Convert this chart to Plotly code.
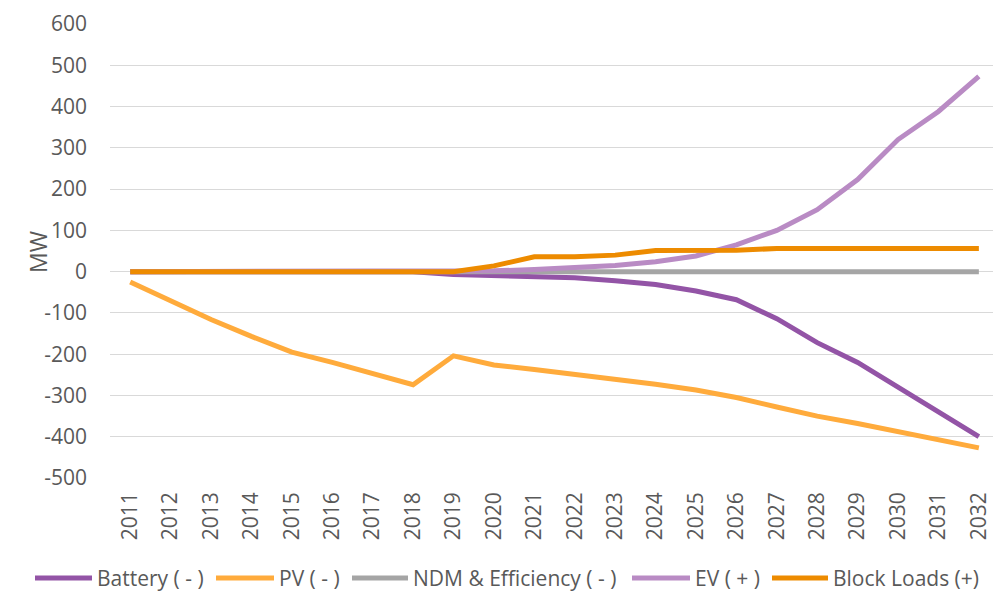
import plotly.graph_objects as go

years = [str(y) for y in range(2011, 2033)]

battery = [0, 0, 0, 0, 0, 0, 0, 0, -7, -9, -11, -15, -22, -31, -47, -68, -114, -172, -220, -281, -342, -400]
pv = [-25, -70, -116, -157, -195, -220, -246, -274, -204, -226, -237, -248, -261, -273, -287, -305, -328, -350, -368, -387, -406, -427]
ndm = [0] * 22
ev = [0, 0, 0, 0, 0, 0, 0, 0, 0, 2, 5, 9, 15, 24, 38, 65, 100, 150, 223, 320, 388, 473]
block_loads = [0, 0, 0, 0, 0, 0, 0, 0, 0, 14, 36, 36, 40, 51, 51, 52, 56, 56, 56, 56, 56, 56]

y_ticks = list(range(-500, 601, 100))
y_tick_text = [str(v) for v in y_ticks]  # plain hyphen, as in the reference

series = [
    ("Battery ( - )", battery, "#9354A6"),
    ("PV ( - )", pv, "#FFAB3C"),
    ("NDM & Efficiency ( - )", ndm, "#A5A5A5"),
    ("EV ( + )", ev, "#B98BC4"),
    ("Block Loads (+)", block_loads, "#ED8B00"),
]

W, H = 993, 592
L, R, T, B = 110, 0, 24, 114
PW, PH = W - L - R, H - T - B

def px_x(p):
    return (p - L) / PW

def px_y(p):
    return (H - B - p) / PH

fig = go.Figure()
for name, vals, color in series:
    fig.add_trace(go.Scatter(
        x=years, y=vals, name=name, mode="lines",
        line=dict(color=color, width=5),
    ))

font_color = "#595959"

# hand-placed legend so the swatches match the long Excel-style lines
legend_lines = [(35, 92), (216, 274), (352, 408), (632, 690), (772, 828)]
legend_y = 578
shapes = []
annotations = []
for (name, _, color), (x0, x1) in zip(series, legend_lines):
    shapes.append(dict(type="line", xref="paper", yref="paper",
                       x0=px_x(x0), x1=px_x(x1), y0=px_y(legend_y), y1=px_y(legend_y),
                       line=dict(color=color, width=5)))
    annotations.append(dict(text=name, xref="paper", yref="paper",
                            x=px_x(x1 + 3), y=px_y(legend_y), xanchor="left", yanchor="middle",
                            showarrow=False, font=dict(size=21, color=font_color)))

annotations.append(dict(text="MW", x=px_x(20), y=px_y(252), xref="paper", yref="paper",
                        textangle=-90, showarrow=False, font=dict(size=23, color=font_color)))

fig.update_layout(
    width=W, height=H,
    margin=dict(l=L, r=R, t=T, b=B),
    plot_bgcolor="white", paper_bgcolor="white",
    font=dict(family="Open Sans, Lato, sans-serif", size=20, color=font_color),
    showlegend=False,
    xaxis=dict(type="category", range=[-0.5, 21.35], tickangle=-90, showgrid=False,
               ticks="", ticklabelstandoff=9, tickfont=dict(size=21, color=font_color),
               showline=False, zeroline=False, automargin=False),
    yaxis=dict(range=[-500, 600], tickvals=y_ticks, ticktext=y_tick_text,
               showgrid=True, gridcolor="#D9D9D9", gridwidth=1,
               zeroline=True, zerolinecolor="#D9D9D9", zerolinewidth=1,
               ticks="", ticklabelstandoff=22, tickfont=dict(size=21, color=font_color),
               showline=False, automargin=False),
    shapes=shapes,
    annotations=annotations,
)

fig.write_html("out.html", config={"displayModeBar": False},
               post_script="document.body.style.margin='0';")
